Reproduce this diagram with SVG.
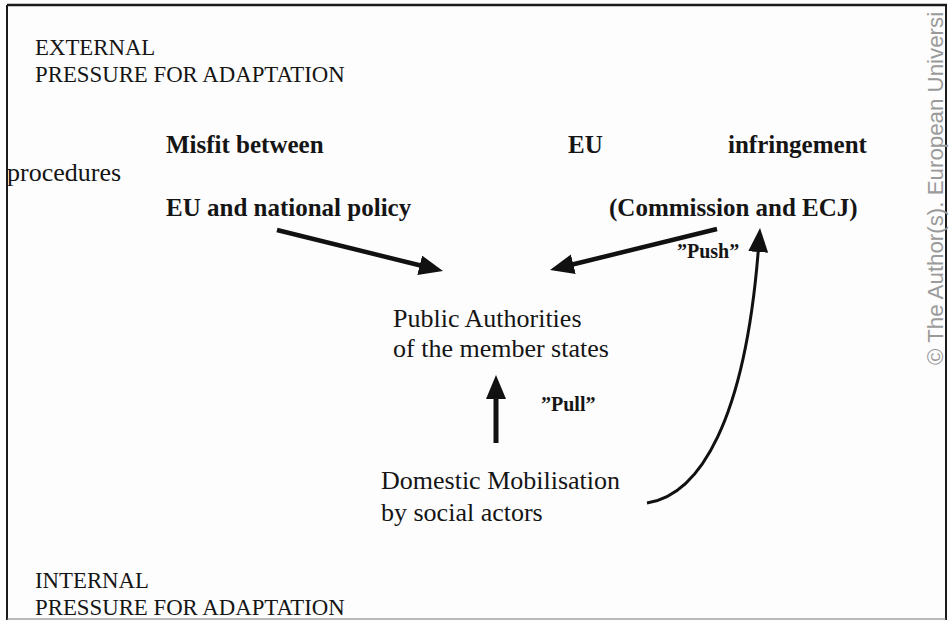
<svg xmlns="http://www.w3.org/2000/svg" width="949" height="621" viewBox="0 0 949 621">
  <defs>
    <style>
      .hdr { font-family: "Liberation Serif", "Times New Roman", serif; font-size: 22.8px; fill: #151515; }
      .reg { font-family: "Liberation Serif", "Times New Roman", serif; font-size: 26px; fill: #151515; }
      .bld { font-family: "Liberation Serif", "Times New Roman", serif; font-size: 25px; font-weight: bold; fill: #151515; }
      .lbl { font-family: "Liberation Serif", "Times New Roman", serif; font-size: 20px; font-weight: bold; fill: #151515; }
      .wm { font-family: "Liberation Sans", Arial, sans-serif; font-size: 22.3px; fill: #9a9a9a; }
      .conn { fill: none; stroke: #111; stroke-linecap: butt; }
    </style>
    <marker id="head" markerUnits="userSpaceOnUse" markerWidth="26" markerHeight="22" refX="3" refY="10" orient="auto">
      <path d="M0,0 L24,10 L0,20 z" fill="#111"/>
    </marker>
  </defs>

  <rect x="0" y="0" width="949" height="621" fill="#fdfdfd"/>

  <!-- frame -->
  <g id="frame" fill="none">
    <line x1="7" y1="5" x2="947" y2="5" stroke="#1a1a1a" stroke-width="2.5"/>
    <line x1="7" y1="5" x2="7" y2="620" stroke="#1a1a1a" stroke-width="2"/>
    <line x1="946" y1="5" x2="946" y2="620" stroke="#1a1a1a" stroke-width="2"/>
    <line x1="7" y1="619" x2="946" y2="619" stroke="#777" stroke-width="1"/>
  </g>

  <!-- watermark -->
  <text class="wm" transform="translate(943,365) rotate(-90)">© The Author(s). European Universi</text>

  <g id="external-pressure">
    <text class="hdr" x="35" y="55">EXTERNAL</text>
    <text class="hdr" x="35" y="82">PRESSURE FOR ADAPTATION</text>
  </g>

  <g id="misfit">
    <text class="bld" x="166" y="153">Misfit between</text>
    <text class="bld" x="166" y="216">EU and national policy</text>
  </g>

  <g id="procedures">
    <text class="reg" x="7" y="181">procedures</text>
  </g>

  <g id="eu-infringement">
    <text class="bld" x="568" y="153">EU</text>
    <text class="bld" x="728" y="153">infringement</text>
    <text class="bld" x="609" y="216">(Commission and ECJ)</text>
  </g>

  <g id="public-authorities">
    <text class="reg" x="393" y="327">Public Authorities</text>
    <text class="reg" x="393" y="357">of the member states</text>
  </g>

  <g id="domestic-mobilisation">
    <text class="reg" x="381" y="489">Domestic Mobilisation</text>
    <text class="reg" x="381" y="521">by social actors</text>
  </g>

  <g id="internal-pressure">
    <text class="hdr" x="35" y="588">INTERNAL</text>
    <text class="hdr" x="35" y="615">PRESSURE FOR ADAPTATION</text>
  </g>

  <g id="connectors">
    <line class="conn" x1="277" y1="230" x2="422.6" y2="266" stroke-width="4.5" marker-end="url(#head)"/>
    <line class="conn" x1="717" y1="229" x2="570.4" y2="265" stroke-width="4.5" marker-end="url(#head)"/>
    <line class="conn" x1="496" y1="443" x2="496" y2="396" stroke-width="5" marker-end="url(#head)"/>
    <path class="conn" d="M647 503 C700 495, 745 420, 758.4 249" stroke-width="3" marker-end="url(#head)"/>
    <text class="lbl" x="677" y="258">”Push”</text>
    <text class="lbl" x="541" y="411">”Pull”</text>
  </g>
</svg>
